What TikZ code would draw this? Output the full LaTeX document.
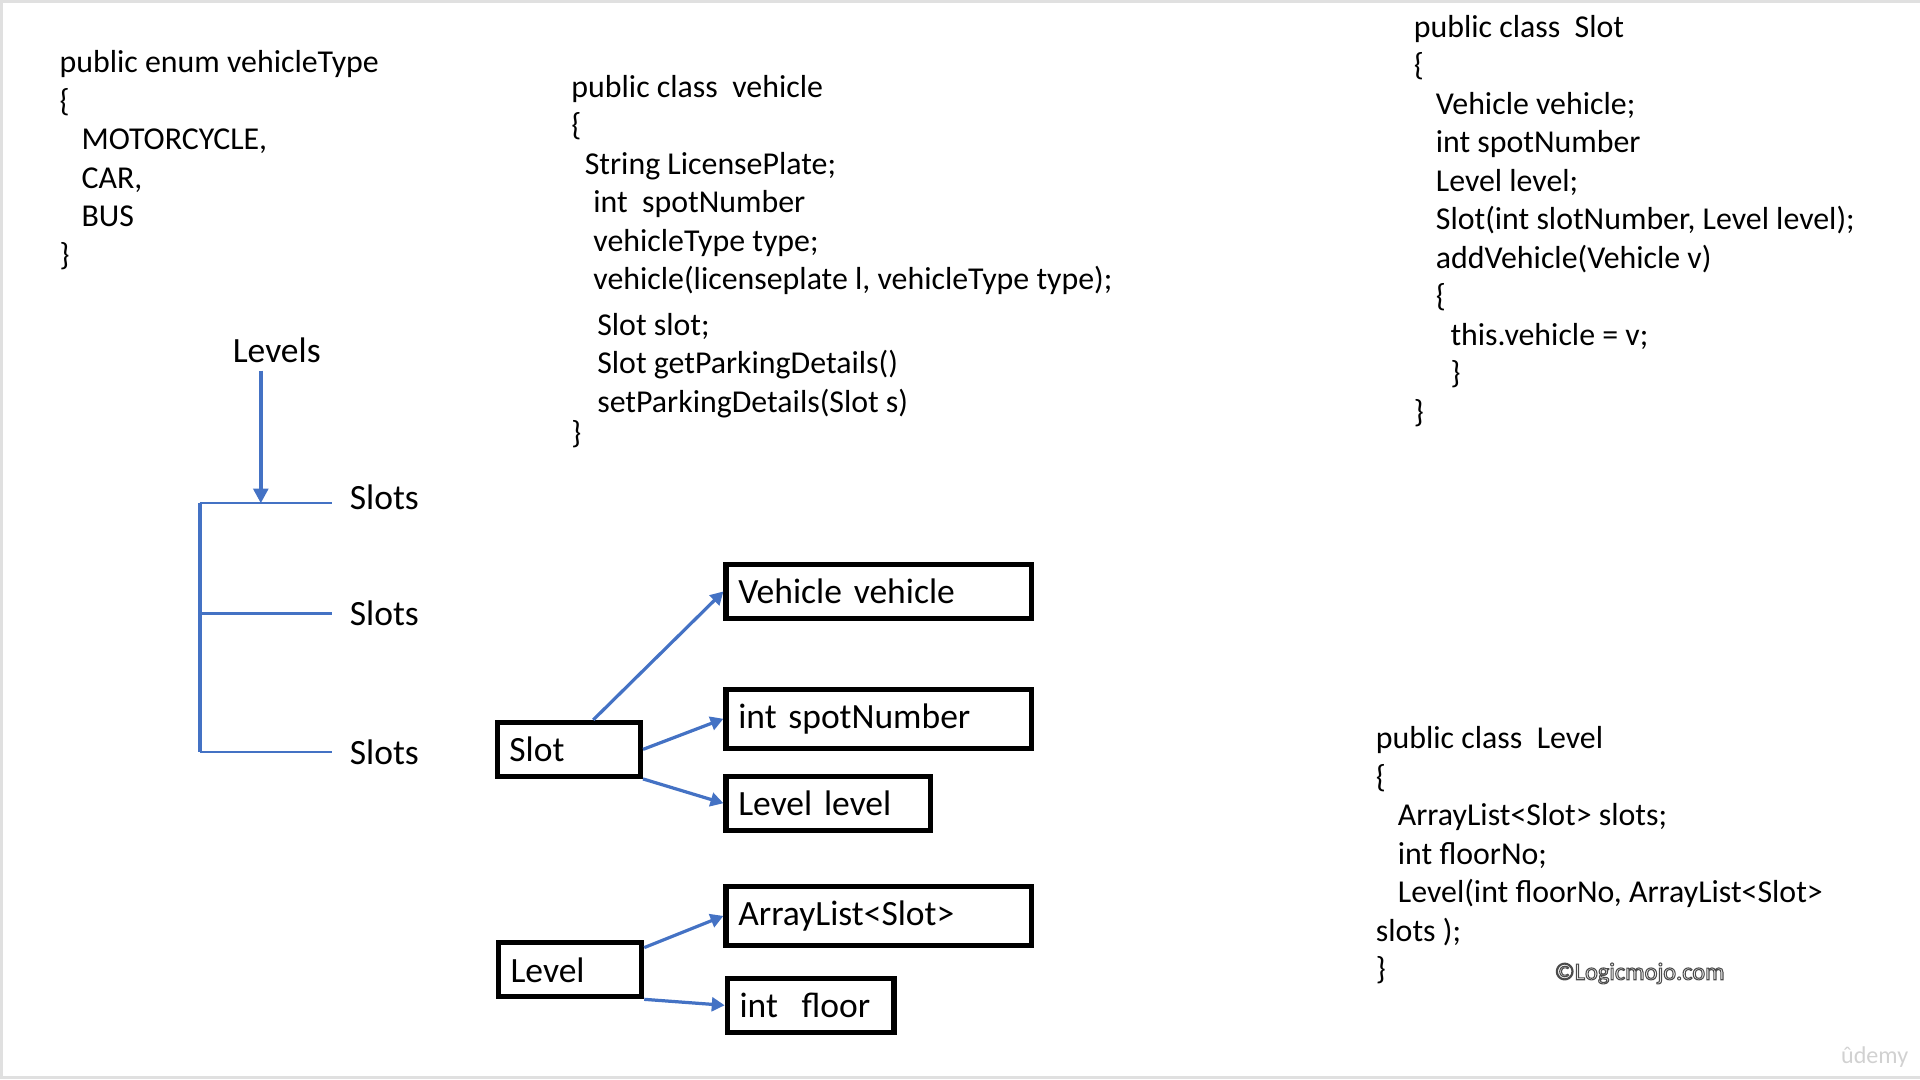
\documentclass[tikz,border=0pt]{standalone}
\usepackage{fontspec}
\setmainfont{Carlito}
\usetikzlibrary{arrows.meta,positioning}
\definecolor{offblue}{HTML}{4472C4}
\newcommand{\codesize}{\fontsize{7.4}{8.95}\selectfont}
\newcommand{\labsize}{\fontsize{8.25}{10}\selectfont}
\newcommand{\hollow}[1]{\special{pdf:literal direct 1 Tr 0.25 w}#1\special{pdf:literal direct 0 Tr}}
\tikzset{
  code/.style={anchor=north west,inner sep=0pt,align=left,font=\codesize},
  fieldbox/.style={draw,line width=1.2pt,minimum height=0.44cm,inner xsep=0.1cm,
    align=left,font=\labsize},
  treelab/.style={font=\labsize},
  link/.style={draw=offblue,line width=0.75pt,-{Triangle[length=3pt,width=3.2pt]}},
}
\begin{document}
\begin{tikzpicture}[x=0.01cm,y=-0.01cm]
\useasboundingbox (0,0) rectangle (1568,882);
\draw[black!12,line width=0.6pt] (1568,1) -- (1,1) -- (1,880) -- (1568,880);

% code on the slide
\node[code] (enum) at (48,40.5) {public enum vehicleType\\
{\char`\{}\\
\hspace*{5.1pt}MOTORCYCLE,\\
\hspace*{5.1pt}CAR,\\
\hspace*{5.1pt}BUS\\
{\char`\}}};
\node[code] (vclass) at (466,60.5) {public class~~vehicle\\
{\char`\{}\\
\hspace*{3.1pt}String LicensePlate;\\
\hspace*{5.1pt}int~~spotNumber\\
\hspace*{5.1pt}vehicleType type;\\
\hspace*{5.1pt}vehicle(licenseplate l, vehicleType type);\\[1.6pt]
\hspace*{6pt}Slot slot;\\
\hspace*{6pt}Slot getParkingDetails()\\
\hspace*{6pt}setParkingDetails(Slot s)\\[-1.6pt]
{\char`\}}};
\node[code] (sclass) at (1154,11.5) {public class~~Slot\\
{\char`\{}\\
\hspace*{5.1pt}Vehicle vehicle;\\
\hspace*{5.1pt}int spotNumber\\
\hspace*{5.1pt}Level level;\\
\hspace*{5.1pt}Slot(int slotNumber, Level level);\\
\hspace*{5.1pt}addVehicle(Vehicle v)\\
\hspace*{5.1pt}{\char`\{}\\
\hspace*{8.5pt}this.vehicle = v;\\
\hspace*{8.5pt}{\char`\}}\\
{\char`\}}};
\node[code] (lclass) at (1123,592.5) {public class~~Level\\
{\char`\{}\\
\hspace*{5.1pt}ArrayList<Slot> slots;\\
\hspace*{5.1pt}int floorNo;\\
\hspace*{5.1pt}Level(int floorNo, ArrayList<Slot>\\
slots );\\
{\char`\}}};

% levels and slots
\node[treelab] (levels) at (226,286) {Levels};
\node[treelab,anchor=west,inner xsep=0.14cm] (s1) at (271,406) {Slots};
\node[treelab,anchor=west,inner xsep=0.14cm] (s2) at (271,501) {Slots};
\node[treelab,anchor=west,inner xsep=0.14cm] (s3) at (271,614) {Slots};
\coordinate (b1) at (163,411);
\coordinate (b3) at (163,614);
\coordinate (lv) at ([xshift=-0.13cm,yshift=0.06cm]levels.south);
\draw[offblue,line width=0.9pt] (b1) -- (b3);
\draw[offblue,line width=0.5pt] (b1) -- (b1 -| s1.west)
  (b3 |- s2.west) -- (s2.west)
  (b3) -- (s3.west);
\draw[offblue,line width=0.9pt,-{Triangle[length=3.4pt,width=3.4pt]}] (lv) -- (lv |- b1);

% fields
\node[fieldbox,text width=2.29cm] (vv) at (717.5,483) {Vehicle vehicle};
\node[fieldbox,text width=2.29cm] (sn) at (717.5,587) {int spotNumber};
\node[fieldbox,text width=1.47cm] (ll) at (676.5,656) {Level level};
\node[fieldbox,text width=0.97cm] (slot) at (464.5,612) {Slot};
\node[fieldbox,text width=2.29cm] (al) at (717.5,748) {ArrayList<Slot>};
\node[fieldbox,text width=0.97cm] (lvl) at (465.5,792) {Level};
\node[fieldbox,text width=1.16cm] (fl) at (662,821) {int~~floor};

\draw[link] ([xshift=0.2cm]slot.north) -- (vv.west);
\draw[link] (slot.east) -- (sn.west);
\draw[link] (slot.south east) -- (ll.west);
\draw[link] ([yshift=-0.06cm]lvl.north east) -- (al.west);
\draw[link] (lvl.south east) -- (fl.west);

\node[font=\fontsize{5.6}{7}\selectfont,text=black!18] (udemy) at (1531,863) {ûdemy};
\node[font=\fontsize{5.65}{7}\selectfont,text=black!70] (copy) at (1339,795) {\hollow{©Logicmojo.com}};
\end{tikzpicture}
\end{document}
